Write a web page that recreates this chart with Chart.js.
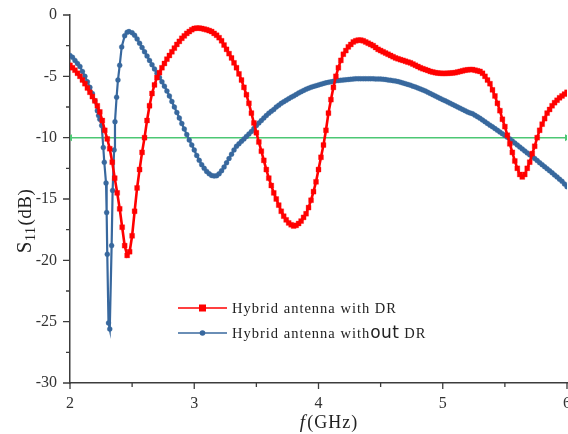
<!DOCTYPE html>
<html>
<head>
<meta charset="utf-8">
<script src="https://cdn.jsdelivr.net/npm/chart.js@4.4.1/dist/chart.umd.min.js"></script>
<style>
html,body{margin:0;padding:0;background:#fff;}
#wrap{width:568px;height:434px;position:relative;}
</style>
</head>
<body>
<div id="wrap"><canvas id="c" width="568" height="434"></canvas></div>
<script>
// ---- data ----
const redFreq = [2.00,2.02,2.04,2.06,2.08,2.10,2.12,2.14,2.16,2.18,2.20,2.22,2.24,2.26,2.28,2.30,2.32,2.34,2.36,2.38,2.40,2.42,2.44,2.46,2.48,2.50,2.52,2.54,2.56,2.58,2.60,2.62,2.64,2.66,2.68,2.70,2.72,2.74,2.76,2.78,2.80,2.82,2.84,2.86,2.88,2.90,2.92,2.94,2.96,2.98,3.00,3.02,3.04,3.06,3.08,3.10,3.12,3.14,3.16,3.18,3.20,3.22,3.24,3.26,3.28,3.30,3.32,3.34,3.36,3.38,3.40,3.42,3.44,3.46,3.48,3.50,3.52,3.54,3.56,3.58,3.60,3.62,3.64,3.66,3.68,3.70,3.72,3.74,3.76,3.78,3.80,3.82,3.84,3.86,3.88,3.90,3.92,3.94,3.96,3.98,4.00,4.02,4.04,4.06,4.08,4.10,4.12,4.14,4.16,4.18,4.20,4.22,4.24,4.26,4.28,4.30,4.32,4.34,4.36,4.38,4.40,4.42,4.44,4.46,4.48,4.50,4.52,4.54,4.56,4.58,4.60,4.62,4.64,4.66,4.68,4.70,4.72,4.74,4.76,4.78,4.80,4.82,4.84,4.86,4.88,4.90,4.92,4.94,4.96,4.98,5.00,5.02,5.04,5.06,5.08,5.10,5.12,5.14,5.16,5.18,5.20,5.22,5.24,5.26,5.28,5.30,5.32,5.34,5.36,5.38,5.40,5.42,5.44,5.46,5.48,5.50,5.52,5.54,5.56,5.58,5.60,5.62,5.64,5.66,5.68,5.70,5.72,5.74,5.76,5.78,5.80,5.82,5.84,5.86,5.88,5.90,5.92,5.94,5.96,5.98,6.00];
const redS11 = [-4.1,-4.3,-4.5,-4.75,-5.0,-5.3,-5.6,-5.95,-6.3,-6.65,-7.0,-7.4,-7.9,-8.6,-9.4,-10.1,-10.9,-12.0,-13.3,-14.5,-15.8,-17.3,-18.8,-19.6,-19.3,-18.0,-16.0,-14.1,-12.6,-11.2,-10.0,-8.6,-7.4,-6.4,-5.7,-5.1,-4.7,-4.3,-3.95,-3.6,-3.3,-3.0,-2.7,-2.4,-2.15,-1.9,-1.7,-1.5,-1.35,-1.2,-1.1,-1.07,-1.07,-1.1,-1.15,-1.2,-1.27,-1.35,-1.5,-1.65,-1.85,-2.1,-2.45,-2.8,-3.15,-3.5,-3.9,-4.3,-4.8,-5.3,-5.9,-6.5,-7.2,-8.0,-8.8,-9.6,-10.35,-11.1,-11.85,-12.6,-13.3,-13.9,-14.5,-15.0,-15.5,-16.0,-16.4,-16.7,-16.95,-17.1,-17.2,-17.15,-17.0,-16.8,-16.5,-16.2,-15.7,-15.1,-14.4,-13.6,-12.6,-11.6,-10.6,-9.4,-8.0,-6.9,-5.9,-5.0,-4.3,-3.7,-3.2,-2.9,-2.6,-2.4,-2.2,-2.1,-2.05,-2.05,-2.1,-2.2,-2.3,-2.4,-2.5,-2.65,-2.8,-2.9,-3.0,-3.1,-3.2,-3.3,-3.4,-3.5,-3.57,-3.64,-3.7,-3.77,-3.84,-3.9,-4.0,-4.1,-4.2,-4.3,-4.38,-4.45,-4.52,-4.6,-4.65,-4.7,-4.73,-4.75,-4.76,-4.76,-4.75,-4.74,-4.72,-4.7,-4.65,-4.6,-4.55,-4.5,-4.47,-4.45,-4.45,-4.5,-4.55,-4.6,-4.75,-5.0,-5.3,-5.6,-6.1,-6.6,-7.2,-7.8,-8.5,-9.1,-9.8,-10.5,-11.2,-11.9,-12.5,-13.0,-13.2,-13.0,-12.5,-12.0,-11.3,-10.7,-10.0,-9.4,-8.9,-8.45,-8.0,-7.7,-7.4,-7.15,-6.95,-6.75,-6.6,-6.45,-6.3];

const blueFreq = [2.00,2.02,2.04,2.06,2.08,2.10,2.12,2.14,2.16,2.18,2.20,2.22,2.23,2.24,2.255,2.268,2.276,2.29,2.295,2.30,2.31,2.32,2.335,2.343,2.355,2.362,2.375,2.386,2.40,2.416,2.44,2.46,2.475,2.50,2.52,2.54,2.56,2.58,2.60,2.62,2.64,2.66,2.68,2.70,2.72,2.74,2.76,2.78,2.80,2.82,2.84,2.86,2.88,2.90,2.92,2.94,2.96,2.98,3.00,3.02,3.04,3.06,3.08,3.10,3.12,3.14,3.16,3.18,3.20,3.22,3.24,3.26,3.28,3.30,3.32,3.34,3.36,3.38,3.40,3.42,3.44,3.46,3.48,3.50,3.52,3.54,3.56,3.58,3.60,3.62,3.64,3.66,3.68,3.70,3.72,3.74,3.76,3.78,3.80,3.82,3.84,3.86,3.88,3.90,3.92,3.94,3.96,3.98,4.00,4.02,4.04,4.06,4.08,4.10,4.12,4.14,4.16,4.18,4.20,4.22,4.24,4.26,4.28,4.30,4.32,4.34,4.36,4.38,4.40,4.42,4.44,4.46,4.48,4.50,4.52,4.54,4.56,4.58,4.60,4.62,4.64,4.66,4.68,4.70,4.72,4.74,4.76,4.78,4.80,4.82,4.84,4.86,4.88,4.90,4.92,4.94,4.96,4.98,5.00,5.02,5.04,5.06,5.08,5.10,5.12,5.14,5.16,5.18,5.20,5.22,5.24,5.26,5.28,5.30,5.32,5.34,5.36,5.38,5.40,5.42,5.44,5.46,5.48,5.50,5.52,5.54,5.56,5.58,5.60,5.62,5.64,5.66,5.68,5.70,5.72,5.74,5.76,5.78,5.80,5.82,5.84,5.86,5.88,5.90,5.92,5.94,5.96,5.98,6.00];
const blueS11 = [-3.3,-3.45,-3.7,-3.95,-4.2,-4.6,-5.0,-5.45,-5.9,-6.4,-7.0,-7.8,-8.2,-8.5,-9.0,-10.8,-12.0,-13.7,-16.1,-19.5,-25.1,-25.6,-18.8,-14.3,-11.0,-8.7,-6.7,-5.3,-4.1,-2.6,-1.7,-1.4,-1.35,-1.45,-1.65,-1.95,-2.3,-2.65,-3.0,-3.35,-3.7,-4.05,-4.4,-4.75,-5.1,-5.45,-5.8,-6.2,-6.6,-7.05,-7.5,-7.95,-8.4,-8.85,-9.3,-9.75,-10.2,-10.6,-11.0,-11.45,-11.85,-12.2,-12.5,-12.75,-12.95,-13.08,-13.12,-13.1,-12.95,-12.7,-12.4,-12.05,-11.7,-11.35,-11.0,-10.7,-10.5,-10.3,-10.1,-9.9,-9.7,-9.5,-9.25,-9.0,-8.8,-8.6,-8.4,-8.2,-8.0,-7.85,-7.7,-7.5,-7.35,-7.2,-7.08,-6.95,-6.83,-6.7,-6.6,-6.48,-6.36,-6.25,-6.15,-6.05,-5.97,-5.89,-5.82,-5.76,-5.7,-5.64,-5.58,-5.53,-5.49,-5.45,-5.41,-5.37,-5.34,-5.32,-5.3,-5.28,-5.26,-5.24,-5.22,-5.2,-5.2,-5.2,-5.2,-5.2,-5.2,-5.2,-5.2,-5.21,-5.21,-5.22,-5.24,-5.26,-5.3,-5.32,-5.35,-5.39,-5.43,-5.48,-5.54,-5.6,-5.66,-5.72,-5.8,-5.87,-5.95,-6.03,-6.11,-6.2,-6.3,-6.4,-6.5,-6.6,-6.7,-6.8,-6.9,-7.0,-7.1,-7.2,-7.3,-7.4,-7.5,-7.6,-7.7,-7.8,-7.9,-7.98,-8.05,-8.18,-8.3,-8.42,-8.56,-8.7,-8.84,-8.98,-9.12,-9.26,-9.4,-9.54,-9.68,-9.82,-9.96,-10.1,-10.27,-10.44,-10.6,-10.76,-10.92,-11.08,-11.24,-11.4,-11.55,-11.7,-11.87,-12.04,-12.2,-12.37,-12.54,-12.7,-12.87,-13.04,-13.2,-13.38,-13.56,-13.78,-14.0];

const refFreq = [2, 6];
const refS11 = [-10, -10];

const xMajorTicks = [2,3,4,5,6];
const xMinorTicks = [2.5,3.5,4.5,5.5];
const yMajorTicks = [0,-5,-10,-15,-20,-25,-30];
const yMinorTicks = [-2.5,-7.5,-12.5,-17.5,-22.5,-27.5];

const seriesNames = ['Hybrid antenna with DR','Hybrid antenna without DR'];
const RED = '#ff0000', BLUE = '#38689e', GREEN = '#4cc774', AXIS = '#3c3c3c';
const SERIF = '"Liberation Serif","Times New Roman",serif';

const toXY = (xs, ys) => xs.map((x, i) => ({x, y: ys[i]}));

const decor = {
  id: 'decor',
  afterDraw(chart) {
    const ctx = chart.ctx, xs = chart.scales.x, ys = chart.scales.y, ca = chart.chartArea;
    ctx.save();
    ctx.strokeStyle = AXIS; ctx.lineWidth = 1.3;
    ctx.beginPath();
    xMajorTicks.forEach(v => { const p = xs.getPixelForValue(v); ctx.moveTo(p, ca.bottom); ctx.lineTo(p, ca.bottom + 6); });
    xMinorTicks.forEach(v => { const p = xs.getPixelForValue(v); ctx.moveTo(p, ca.bottom); ctx.lineTo(p, ca.bottom + 4); });
    yMajorTicks.forEach(v => { const p = ys.getPixelForValue(v); ctx.moveTo(ca.left, p); ctx.lineTo(ca.left - 7, p); });
    yMinorTicks.forEach(v => { const p = ys.getPixelForValue(v); ctx.moveTo(ca.left, p); ctx.lineTo(ca.left - 4, p); });
    ctx.stroke();

    // axis titles
    ctx.fillStyle = '#222';
    ctx.textBaseline = 'alphabetic';
    const xt1 = 'f', xt2 = '(GHz)';
    ctx.font = 'italic 19px ' + SERIF; ctx.letterSpacing = '0px';
    const w1 = ctx.measureText(xt1).width + 2;
    ctx.font = '18px ' + SERIF; ctx.letterSpacing = '1px';
    const w2 = ctx.measureText(xt2).width;
    const cx = 329;
    let sx = cx - (w1 + w2) / 2;
    const by = 428;
    ctx.font = 'italic 19px ' + SERIF; ctx.letterSpacing = '0px';
    ctx.fillText(xt1, sx, by);
    ctx.font = '18px ' + SERIF; ctx.letterSpacing = '1px';
    ctx.fillText(xt2, sx + w1, by);
    ctx.letterSpacing = '0px';

    // y title: S11(dB) with subscript
    ctx.save();
    ctx.translate(31, 221);
    ctx.rotate(-Math.PI / 2);
    ctx.letterSpacing = '0.5px';
    ctx.font = '21px ' + SERIF;
    const sW = ctx.measureText('S').width;
    ctx.font = '14px ' + SERIF;
    const subW = ctx.measureText('11').width;
    ctx.font = '19px ' + SERIF;
    const dW = ctx.measureText('(dB)').width;
    let tx = -(sW + subW + dW + 1) / 2;
    ctx.font = '21px ' + SERIF; ctx.fillText('S', tx, 0); tx += sW;
    ctx.font = '14px ' + SERIF; ctx.fillText('11', tx, 4); tx += subW + 1;
    ctx.font = '19px ' + SERIF; ctx.fillText('(dB)', tx, 0);
    ctx.restore();

    // legend
    const items = [
      {color: RED, style: 'rect', y: 308, parts: [[seriesNames[0], '14.5px ' + SERIF, '1px']]},
      {color: BLUE, style: 'circle', y: 333, parts: [['Hybrid antenna with', '14.5px ' + SERIF, '1px'], ['out', '17px "DejaVu Sans", sans-serif', '0.5px'], [' DR', '14.5px ' + SERIF, '1px']]}
    ];
    items.forEach(it => {
      ctx.strokeStyle = it.color; ctx.lineWidth = 1.5;
      ctx.beginPath(); ctx.moveTo(178, it.y); ctx.lineTo(227, it.y); ctx.stroke();
      ctx.fillStyle = it.color;
      if (it.style === 'rect') ctx.fillRect(202.5 - 3.5, it.y - 3.5, 7, 7);
      else { ctx.beginPath(); ctx.arc(202.5, it.y, 2.8, 0, Math.PI * 2); ctx.fill(); }
      ctx.fillStyle = '#222';
      ctx.textBaseline = 'middle';
      let px = 232;
      it.parts.forEach(([t, f, ls]) => {
        ctx.font = f; ctx.letterSpacing = ls;
        ctx.fillText(t, px, it.y + 1);
        px += ctx.measureText(t).width;
      });
      ctx.letterSpacing = '0px';
    });
    ctx.restore();
  }
};

new Chart(document.getElementById('c'), {
  type: 'line',
  data: {
    datasets: [
      {
        label: seriesNames[0], data: toXY(redFreq, redS11), order: 0,
        borderColor: RED, borderWidth: 2.6, backgroundColor: RED,
        pointStyle: 'rect', pointRadius: 3.5, pointBackgroundColor: RED, pointBorderColor: RED, pointBorderWidth: 0.3,
        tension: 0, fill: false
      },
      {
        label: seriesNames[1], data: toXY(blueFreq, blueS11), order: 1,
        borderColor: BLUE, borderWidth: 2.2, backgroundColor: BLUE,
        pointStyle: 'circle', pointRadius: 2.5, pointBackgroundColor: BLUE, pointBorderColor: BLUE, pointBorderWidth: 0.3,
        tension: 0, fill: false
      },
      {
        label: 'ref', data: toXY(refFreq, refS11), order: 2,
        borderColor: GREEN, borderWidth: 1.5, backgroundColor: GREEN,
        pointStyle: 'triangle', pointRadius: 2.5, pointRotation: [-90, 90],
        pointBackgroundColor: GREEN, pointBorderColor: GREEN, fill: false
      }
    ]
  },
  options: {
    responsive: false, animation: false, devicePixelRatio: 1,
    layout: {autoPadding: false, padding: {top: 15, right: 1, left: 0, bottom: 0}},
    plugins: {legend: {display: false}, tooltip: {enabled: false}},
    scales: {
      x: {
        type: 'linear', min: 2, max: 6,
        afterBuildTicks: s => { s.ticks = xMajorTicks.map(v => ({value: v})); },
        afterFit: s => { s.height = 51; s.paddingLeft = 0; s.paddingRight = 0; },
        grid: {display: false, drawTicks: false},
        border: {display: true, color: AXIS, width: 1.5},
        ticks: {padding: 11, color: '#333', font: {family: SERIF, size: 16}, maxRotation: 0, autoSkip: false}
      },
      y: {
        type: 'linear', min: -30, max: 0,
        afterBuildTicks: s => { s.ticks = yMajorTicks.map(v => ({value: v})); },
        afterFit: s => { s.width = 70; s.paddingTop = 0; s.paddingBottom = 0; },
        grid: {display: false, drawTicks: false},
        border: {display: true, color: AXIS, width: 1.5},
        ticks: {padding: 13, color: '#333', font: {family: SERIF, size: 16}, autoSkip: false}
      }
    }
  },
  plugins: [decor]
});
</script>
</body>
</html>
